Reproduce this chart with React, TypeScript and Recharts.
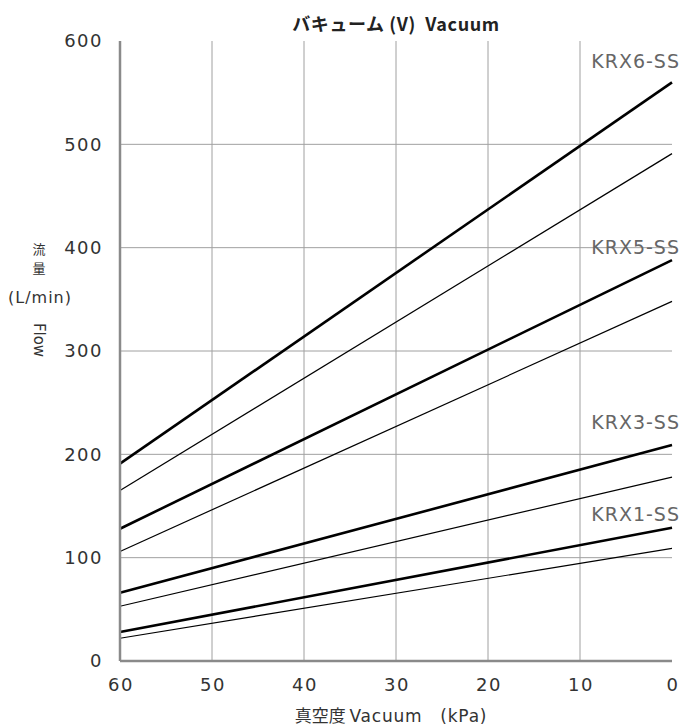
import React from "react";
import {
  LineChart,
  Line,
  XAxis,
  YAxis,
  CartesianGrid,
  ReferenceDot,
} from "recharts";

// Vacuum (kPa) at the two ends of every line
const vacuum = [60, 0];

// Flow (L/min) at 60 kPa and 0 kPa
const krx6Thick = [191, 560];
const krx6Thin = [165, 491];
const krx5Thick = [128, 388];
const krx5Thin = [106, 348];
const krx3Thick = [66, 209];
const krx3Thin = [53, 178];
const krx1Thick = [28, 129];
const krx1Thin = [22, 109];

const seriesNames = ["KRX6-SS", "KRX5-SS", "KRX3-SS", "KRX1-SS"];
const labelFlow = [580, 400, 231, 142];

const xTicks = [60, 50, 40, 30, 20, 10, 0];
const yTicks = [0, 100, 200, 300, 400, 500, 600];

const FONT = "'DejaVu Sans', 'Noto Sans CJK JP', sans-serif";
const CJK = "'Noto Sans CJK JP', 'DejaVu Sans', sans-serif";

const data = vacuum.map((v, i) => ({
  v,
  k6a: krx6Thick[i],
  k6b: krx6Thin[i],
  k5a: krx5Thick[i],
  k5b: krx5Thin[i],
  k3a: krx3Thick[i],
  k3b: krx3Thin[i],
  k1a: krx1Thick[i],
  k1b: krx1Thin[i],
}));

const thick = ["k6a", "k5a", "k3a", "k1a"];
const thin = ["k6b", "k5b", "k3b", "k1b"];

const tickStyle = { fontSize: 18, fill: "#333", fontFamily: FONT, letterSpacing: 1.5 };

export default function App() {
  return (
    <div style={{ position: "absolute", left: 0, top: 0, width: 680, height: 726, background: "#fff" }}>
      <div
        style={{
          position: "absolute",
          left: 120,
          width: 552,
          top: 11,
          textAlign: "center",
          fontSize: 18,
          fontWeight: 700,
          letterSpacing: 0.6,
          color: "#222",
          fontFamily: CJK,
          lineHeight: "24px",
        }}
      >
        バキューム (V)&nbsp;&nbsp;Vacuum
      </div>
      <LineChart
        width={680}
        height={726}
        data={data}
        margin={{ top: 41, right: 8, left: 0, bottom: 0 }}
      >
        <CartesianGrid
          stroke="#a0a0a0"
          strokeWidth={1}
          horizontalValues={[100, 200, 300, 400, 500]}
          verticalValues={[50, 40, 30, 20, 10]}
        />
        <XAxis
          dataKey="v"
          type="number"
          domain={[0, 60]}
          reversed
          ticks={xTicks}
          tickLine={false}
          height={65}
          axisLine={{ stroke: "#8a8a8a", strokeWidth: 2.5 }}
          tick={{ ...tickStyle, dx: 1 }}
          tickMargin={11}
          label={{
            content: () => (
              <text x={391} y={722} textAnchor="middle" fill="#333" fontSize={17} fontFamily={CJK}>
                真空度 <tspan fontFamily={FONT} fontSize={17} letterSpacing={0.8}>Vacuum　(kPa)</tspan>
              </text>
            ),
          }}
        />
        <YAxis
          type="number"
          domain={[0, 600]}
          ticks={yTicks}
          tickLine={false}
          axisLine={{ stroke: "#8a8a8a", strokeWidth: 2.5 }}
          tick={tickStyle}
          tickMargin={11}
          width={120}
          label={{
            content: () => (
              <g fill="#333">
                <text textAnchor="middle" fontSize={13} fontFamily={CJK}>
                  <tspan x={39} y={254}>流</tspan>
                  <tspan x={39} y={273}>量</tspan>
                </text>
                <text x={40} y={303} textAnchor="middle" fontSize={16} letterSpacing={1} fontFamily={FONT}>(L/min)</text>
                <text x={34} y={340} textAnchor="middle" fontSize={15} fontFamily={FONT} transform="rotate(90 34 340)">Flow</text>
              </g>
            ),
          }}
        />
        {thin.map((k) => (
          <Line
            key={k}
            dataKey={k}
            stroke="#000"
            strokeWidth={1.2}
            dot={false}
            isAnimationActive={false}
          />
        ))}
        {thick.map((k) => (
          <Line
            key={k}
            dataKey={k}
            stroke="#000"
            strokeWidth={2.6}
            dot={false}
            isAnimationActive={false}
          />
        ))}
        {seriesNames.map((name, i) => (
          <ReferenceDot
            key={name}
            x={0}
            y={labelFlow[i]}
            r={0}
            fill="none"
            stroke="none"
            label={{
              value: name,
              position: "left",
              offset: -8,
              style: { fontSize: 19, fill: "#666", fontFamily: FONT, letterSpacing: 1 },
            }}
          />
        ))}
      </LineChart>
    </div>
  );
}
